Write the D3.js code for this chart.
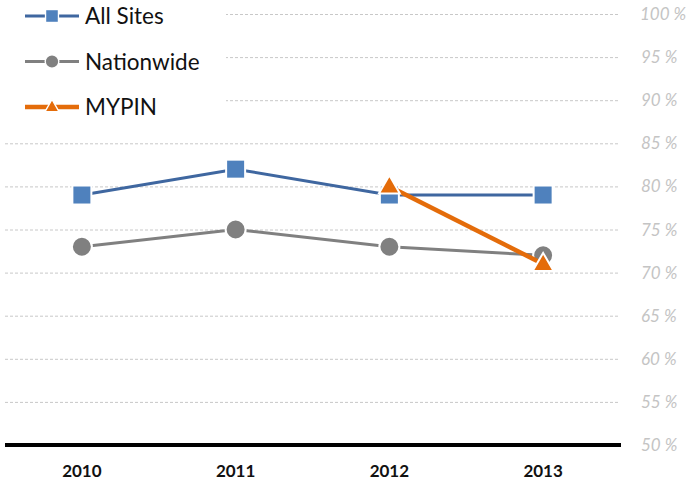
<!DOCTYPE html>
<html lang="en">
<head>
<meta charset="UTF-8">
<title>Sites chart</title>
<style>
    body { margin: 0; background: #fff; }
    svg { display: block; }
    .grid line { stroke: #c8c8c8; stroke-width: 1; stroke-dasharray: 3,2; }
    .ylab { font-family: Lato, "Open Sans", sans-serif; font-style: italic; font-size: 17px; fill: #c4c4c4; }
    .xlab { font-family: Lato, "Open Sans", sans-serif; font-weight: bold; font-size: 17px; fill: #111; }
    .legend text { font-family: Lato, "Open Sans", sans-serif; font-size: 22.5px; fill: #111; }
</style>
</head>
<body>
<svg width="690" height="484"></svg>
<script src="https://d3js.org/d3.v7.min.js"></script>
<script>
    const years = ["2010", "2011", "2012", "2013"];
    const allSites = [79, 82, 79, 79];
    const nationwide = [73, 75, 73, 72];
    const mypin = [null, null, 80, 71];
    const yTicks = [50, 55, 60, 65, 70, 75, 80, 85, 90, 95, 100];

    const series = [
        { name: "All Sites", values: allSites, line: "#3f67a0", fill: "#4f81bd", width: 3, shape: "square" },
        { name: "Nationwide", values: nationwide, line: "#808080", fill: "#808080", width: 3, shape: "circle" },
        { name: "MYPIN", values: mypin, line: "#e46c0a", fill: "#e46c0a", width: 4.5, shape: "triangle" }
    ];

    const svg = d3.select("svg");
    const plotLeft = 5, plotRight = 620, plotTop = 14, plotBottom = 445;

    const x = d3.scalePoint().domain(years).range([plotLeft, plotRight]).padding(0.5);
    const y = d3.scaleLinear().domain([50, 100]).range([plotBottom, plotTop]);

    // gridlines
    svg.append("g").attr("class", "grid")
        .selectAll("line")
        .data(yTicks.filter(d => d > 50))
        .enter().append("line")
        .attr("x1", plotLeft).attr("x2", plotRight - 2)
        .attr("y1", d => y(d) + 0.5).attr("y2", d => y(d) + 0.5);

    // bottom axis line
    svg.append("line")
        .attr("x1", plotLeft).attr("x2", plotRight + 1)
        .attr("y1", y(50)).attr("y2", y(50))
        .attr("stroke", "#000").attr("stroke-width", 4);

    // y labels on the right
    svg.selectAll(".ylab")
        .data(yTicks)
        .enter().append("text")
        .attr("class", "ylab")
        .attr("x", d => d === 100 ? 640 : 641)
        .attr("y", d => y(d) + 6)
        .text(d => d + " %");

    // x labels
    svg.selectAll(".xlab")
        .data(years)
        .enter().append("text")
        .attr("class", "xlab")
        .attr("text-anchor", "middle")
        .attr("x", d => x(d))
        .attr("y", 477)
        .text(d => d);

    function marker(g, shape, fill) {
        if (shape === "square") {
            g.append("rect").attr("x", -9.5).attr("y", -9.5).attr("width", 19).attr("height", 19)
                .attr("fill", fill).attr("stroke", "#fff").attr("stroke-width", 2);
        } else if (shape === "circle") {
            g.append("circle").attr("r", 10)
                .attr("fill", fill).attr("stroke", "#fff").attr("stroke-width", 2);
        } else {
            g.append("path").attr("d", d3.symbol().type(d3.symbolTriangle).size(190)())
                .attr("transform", "translate(0,1)")
                .attr("fill", fill).attr("stroke", "#fff").attr("stroke-width", 2);
        }
    }

    const line = d3.line()
        .defined(d => d.v !== null)
        .x(d => x(d.year))
        .y(d => y(d.v));

    series.forEach(s => {
        const pts = years.map((yr, i) => ({ year: yr, v: s.values[i] }));
        const g = svg.append("g");
        g.append("path")
            .datum(pts)
            .attr("fill", "none")
            .attr("stroke", s.line)
            .attr("stroke-width", s.width)
            .attr("d", line);
        pts.filter(d => d.v !== null).forEach(d => {
            const m = g.append("g").attr("transform", `translate(${x(d.year)},${y(d.v)})`);
            marker(m, s.shape, s.fill);
        });
    });

    // legend
    const legend = svg.append("g").attr("class", "legend");
    legend.append("rect").attr("x", 0).attr("y", 0).attr("width", 226).attr("height", 125).attr("fill", "#fff");
    series.forEach((s, i) => {
        const ly = 16 + i * 45.5;
        const lg = legend.append("g").attr("transform", `translate(0,${ly})`);
        lg.append("line").attr("x1", 25).attr("x2", 79).attr("y1", 0).attr("y2", 0)
            .attr("stroke", s.line).attr("stroke-width", s.width);
        const m = lg.append("g").attr("transform", "translate(52,0) scale(0.68)");
        marker(m, s.shape, s.fill);
        lg.append("text").attr("x", 85).attr("y", 8).text(s.name);
    });
</script>
</body>
</html>
